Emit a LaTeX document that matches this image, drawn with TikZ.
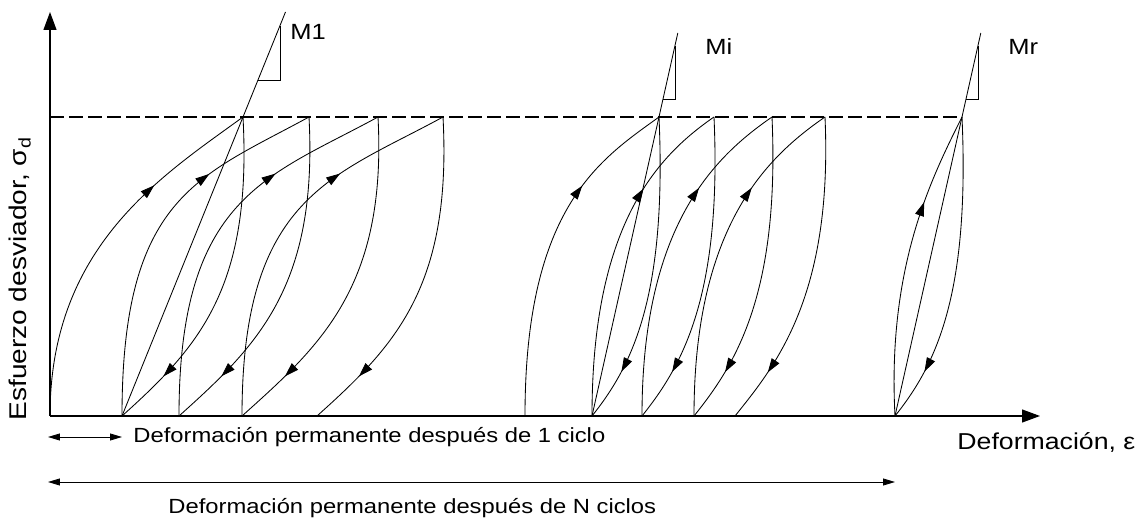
\documentclass[tikz,border=0pt]{standalone}
\usepackage{fontspec}
\setmainfont{Liberation Sans}[FakeStretch=1.16]
\usepackage{tikz}
\usetikzlibrary{arrows.meta, decorations.markings, positioning}

\begin{document}
\begin{tikzpicture}[x=1pt, y=1pt, line width=0.85pt,
        every node/.style={inner sep=0pt, font=\fontsize{20.5}{23}\selectfont},
        axis/.style={line width=1.2pt, -{Triangle[length=18pt, width=13pt]}},
        loadarc/.style={postaction={decorate}, decoration={markings, mark=at position 0.7 with {\arrow{Triangle[length=14pt, width=9pt]}}}},
        unloadarc/.style={postaction={decorate}, decoration={markings, mark=at position 0.83 with {\arrow{Triangle[length=14pt, width=9pt]}}}},
        dimline/.style={{Triangle[length=12pt, width=7pt]}-{Triangle[length=12pt, width=7pt]}}]
        \useasboundingbox (-50,-103) rectangle (1091,416);

        % first cycles
        \coordinate (o) at (0,0);
        \coordinate (b2) at (72,0);
        \coordinate (b3) at (129,0);
        \coordinate (b4) at (192,0);
        \coordinate (b5) at (267,0);
        \coordinate (p1) at (193,299);
        \coordinate (p2) at (259,299);
        \coordinate (p3) at (328,299);
        \coordinate (p4) at (393,299);
        % cycle i
        \coordinate (c0) at (475,0);
        \coordinate (c1) at (542,0);
        \coordinate (c2) at (592,0);
        \coordinate (c3) at (644,0);
        \coordinate (c4) at (685,0);
        \coordinate (q1) at (609,299);
        \coordinate (q2) at (664,299);
        \coordinate (q3) at (722,299);
        \coordinate (q4) at (775,299);
        % resilient cycle
        \coordinate (r0) at (845,0);
        \coordinate (rp) at (912,299);

        \draw[axis] (o) -- (0,404);
        \draw[axis] (o) -- (990,0);
        \draw[line width=1.1pt, dash pattern=on 14pt off 5pt] (0,299) -- (rp);

        \draw[loadarc] (o) .. controls +(0,170) and +(-81,-59) .. (p1);
        \draw[unloadarc] (p1) .. controls +(9,-170) and +(78,70) .. (b2);
        \draw[loadarc] (b2) .. controls +(0,220) and +(-110,-60) .. (p2);
        \draw[unloadarc] (p2) .. controls +(9,-170) and +(78,70) .. (b3);
        \draw[loadarc] (b3) .. controls +(0,220) and +(-110,-60) .. (p3);
        \draw[unloadarc] (p3) .. controls +(9,-170) and +(78,70) .. (b4);
        \draw[loadarc] (b4) .. controls +(0,220) and +(-110,-60) .. (p4);
        \draw[unloadarc] (p4) .. controls +(9,-170) and +(78,70) .. (b5);

        \draw[loadarc] (c0) .. controls +(0,210) and +(-58,-42) .. (q1);
        \draw[unloadarc] (q1) .. controls +(8,-180) and +(40,50) .. (c1);
        \draw[loadarc] (c1) .. controls +(0,190) and +(-58,-40) .. (q2);
        \draw[unloadarc] (q2) .. controls +(8,-180) and +(40,50) .. (c2);
        \draw[loadarc] (c2) .. controls +(0,190) and +(-58,-40) .. (q3);
        \draw[unloadarc] (q3) .. controls +(8,-180) and +(40,50) .. (c3);
        \draw[loadarc] (c3) .. controls +(0,190) and +(-58,-40) .. (q4);
        \draw[unloadarc] (q4) .. controls +(8,-180) and +(40,50) .. (c4);

        \draw[loadarc] (r0) .. controls +(-8,150) and +(-30,-60) .. (rp);
        \draw[unloadarc] (rp) .. controls +(8,-180) and +(40,50) .. (r0);

        % moduli
        \draw (b2) -- (235.5,404);
        \draw (208,336) -- (230,336) -- (230,390.4);
        \draw (c1) -- (627.8,383);
        \draw (613.3,317) -- (625,317) -- (625,370);
        \draw (r0) -- (930.8,383);
        \draw (916,317) -- (928,317) -- (928,370);

        \node[anchor=base west, font=\fontsize{22}{24}\selectfont] (mone) at (240,376) {M1};
        \node[anchor=base west, font=\fontsize{22}{24}\selectfont] (mi) at (655,361) {Mi};
        \node[anchor=base west, font=\fontsize{22}{24}\selectfont] (mr) at (958,361) {Mr};

        \node[rotate=90, font=\fontsize{24.2}{26}\selectfont] (ylabel) at (-30,137) {Esfuerzo desviador, σ\textsubscript{d}};
        \node[anchor=base west, font=\fontsize{23}{25}\selectfont] (xlabel) at (907,-34) {Deformación, ε};

        \coordinate (d1a) at (-2,-21);
        \coordinate (d1b) at (72,-21);
        \coordinate (dna) at (-2,-66);
        \coordinate (dnb) at (845,-66);
        \draw[dimline] (d1a) -- (d1b);
        \draw[dimline] (dna) -- (dnb);
        \node[anchor=base west] (onecycle) at (83,-27) {Deformación permanente después de 1 ciclo};
        \node[anchor=base west] (ncycles) at (118,-98) {Deformación permanente después de N ciclos};
    \end{tikzpicture}
\end{document}
